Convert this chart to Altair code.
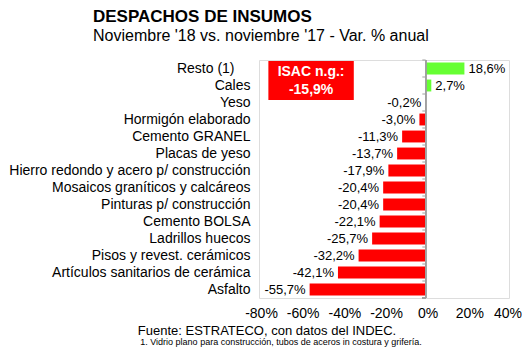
import altair as alt
import pandas as pd

categories = [
    "Resto (1)",
    "Cales",
    "Yeso",
    "Hormigón elaborado",
    "Cemento GRANEL",
    "Placas de yeso",
    "Hierro redondo y acero p/ construcción",
    "Mosaicos graníticos y calcáreos",
    "Pinturas p/ construcción",
    "Cemento BOLSA",
    "Ladrillos huecos",
    "Pisos y revest. cerámicos",
    "Artículos sanitarios de cerámica",
    "Asfalto",
]
values = [18.6, 2.7, -0.2, -3.0, -11.3, -13.7, -17.9, -20.4, -20.4, -22.1, -25.7, -32.2, -42.1, -55.7]
tick_values = [-80, -60, -40, -20, 0, 20, 40]
isac_value = -15.9
source_text = "Fuente: ESTRATECO, con datos del INDEC."
note_text = "1. Vidrio plano para construcción, tubos de aceros in costura y grifería."

FONT = "Liberation Sans"

def fmt(v):
    return f"{v:.1f}%".replace(".", ",")

df = pd.DataFrame({
    "cat": categories,
    "val": values,
    "label": [fmt(v) for v in values],
})

yenc = alt.Y(
    "cat:N", sort=categories,
    scale=alt.Scale(paddingInner=0.3, paddingOuter=0.15),
    axis=alt.Axis(title=None, domain=False, ticks=False,
                  labelPadding={"condition": {"test": "datum.value === 'Resto (1)'", "value": 25}, "value": 9},
                  labelFontSize=14, labelFont=FONT, labelColor="black",
                  labelLimit=400, grid=False),
)
xenc = alt.X(
    "val:Q",
    scale=alt.Scale(domain=[-80, 40], nice=False, zero=False),
    axis=alt.Axis(title=None, values=tick_values, labelExpr="datum.value + '%'",
                  grid=False, domain=False, ticks=False, labelPadding=8,
                  labelOverlap=False, labelFlush=False,
                  labelOffset={"condition": {"test": "datum.value === 40", "value": -1.5}, "value": 2},
                  labelFontSize=14, labelFont=FONT, labelColor="black"),
)

base = alt.Chart(df)

bars = base.mark_bar().encode(
    x=xenc, y=yenc,
    color=alt.condition(alt.datum.val > 0, alt.value("#66FF33"), alt.value("#FF0000")),
)

neg_labels = base.transform_filter(alt.datum.val < 0).mark_text(
    align="right", dx=-4, fontSize=13, font=FONT, color="black"
).encode(x="val:Q", y=alt.Y("cat:N", sort=categories), text="label:N")

pos_labels = base.transform_filter(alt.datum.val > 0).mark_text(
    align="left", dx=4, fontSize=13, font=FONT, color="black"
).encode(x="val:Q", y=alt.Y("cat:N", sort=categories), text="label:N")

zero_line = base.mark_rule(color="#A0A0A0").encode(
    x=alt.datum(0), y=alt.value(0), y2=alt.value(238)
)
zero_ticks = base.mark_rule(color="#A0A0A0", yOffset=-8.5).encode(
    x=alt.datum(0), x2=alt.datum(-1.6), y=alt.Y("cat:N", sort=categories)
)
zero_tick_end = base.mark_rule(color="#A0A0A0").encode(
    x=alt.datum(0), x2=alt.datum(-1.6), y=alt.value(238)
)

isac_df = pd.DataFrame({"x": [-75.5], "x2": [-34.5], "t1": ["ISAC n.g.:"], "t2": [fmt(isac_value)]})
isac_box = alt.Chart(isac_df).mark_rect(color="#FF0000").encode(
    x="x:Q", x2="x2:Q", y=alt.value(1), y2=alt.value(40)
)
isac_text1 = alt.Chart(isac_df).transform_calculate(
    mid="(datum.x + datum.x2) / 2"
).mark_text(fontSize=14, fontWeight="bold", font=FONT, color="white").encode(
    x="mid:Q", y=alt.value(12), text="t1:N"
)
isac_text2 = alt.Chart(isac_df).transform_calculate(
    mid="(datum.x + datum.x2) / 2"
).mark_text(fontSize=14, fontWeight="bold", font=FONT, color="white").encode(
    x="mid:Q", y=alt.value(30), text="t2:N"
)

foot_df = pd.DataFrame({"src": [source_text], "note": [note_text]})
foot1 = alt.Chart(foot_df).mark_text(fontSize=13, font=FONT, color="black").encode(
    x=alt.value(8), y=alt.value(271), text="src:N"
)
foot2 = alt.Chart(foot_df).mark_text(fontSize=9, font=FONT, color="black").encode(
    x=alt.value(22), y=alt.value(282), text="note:N"
)

chart = alt.layer(
    bars, zero_line, zero_ticks, zero_tick_end, neg_labels, pos_labels,
    isac_box, isac_text1, isac_text2, foot1, foot2
).properties(
    width=250, height=238,
    autosize=alt.AutoSizeParams(type="none"),
    padding={"left": 251, "top": 52, "right": 13, "bottom": 49},
    title=alt.TitleParams(
        text="DESPACHOS DE INSUMOS",
        subtitle="Noviembre '18 vs. noviembre '17 - Var. % anual",
        anchor="start", frame="group", dx=-166, offset=15,
        font=FONT, fontSize=17, fontWeight="bold", color="black",
        subtitleFont=FONT, subtitleFontSize=16, subtitleColor="black",
        subtitlePadding=2,
    ),
).configure_view(stroke=None).configure(background="white")

chart.save("out.html", embed_options={"renderer": "svg", "actions": False})
